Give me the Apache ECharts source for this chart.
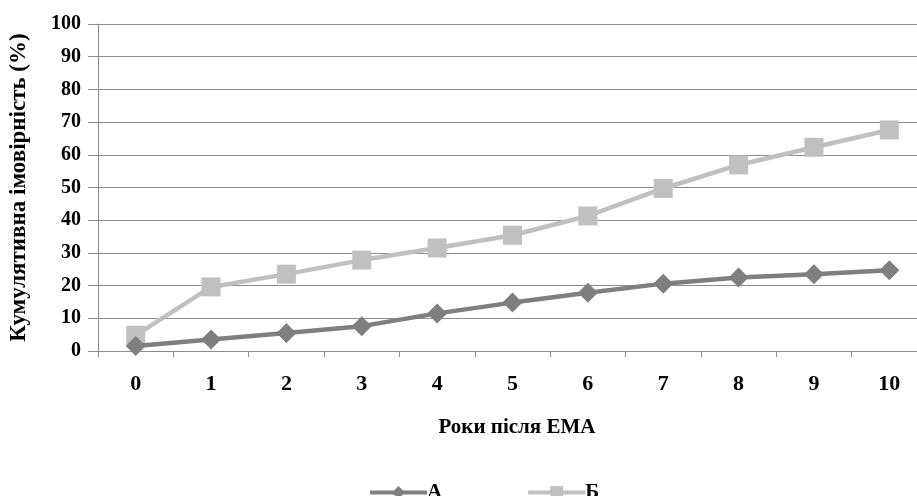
<!DOCTYPE html>
<html>
<head>
<meta charset="utf-8">
<script src="https://cdn.jsdelivr.net/npm/echarts@6/dist/echarts.min.js"></script>
<style>
  html, body { margin: 0; padding: 0; background: #ffffff; }
  #chart { width: 917px; height: 496px; }
</style>
</head>
<body>
<div id="chart"></div>
<script>
// Years after EMA and cumulative probability (%) for the two groups
const years = ['0', '1', '2', '3', '4', '5', '6', '7', '8', '9', '10'];
const seriesA = [1.5, 3.5, 5.5, 7.6, 11.5, 14.8, 17.8, 20.6, 22.5, 23.5, 24.7];
const seriesB = [4.8, 19.6, 23.5, 27.8, 31.5, 35.4, 41.3, 49.7, 56.9, 62.3, 67.6];
const yTicks = { min: 0, max: 100, interval: 10 };

const FONT = '"Liberation Serif", "Times New Roman", serif';
const AXIS_GRAY = '#8c8c8c';

const chart = echarts.init(document.getElementById('chart'), null, { renderer: 'canvas' });

chart.setOption({
  backgroundColor: '#ffffff',
  animation: false,
  grid: {
    left: 98, top: 24, right: -10, height: 327,
    containLabel: false,
    outerBoundsMode: 'none'
  },
  legend: {
    left: 363,
    top: 477,
    itemWidth: 57,
    itemHeight: 16,
    itemGap: 84,
    lineStyle: { width: 4 },
    textStyle: { fontFamily: FONT, fontWeight: 'bold', fontSize: 21, color: '#000', padding: [8, 0, 0, -5] },
    data: ['А', 'Б']
  },
  xAxis: {
    type: 'category',
    data: years,
    boundaryGap: true,
    name: 'Роки після ЕМА',
    nameLocation: 'middle',
    nameGap: 66,
    nameTextStyle: {
      fontFamily: FONT, fontWeight: 'bold', fontSize: 21, color: '#000',
      verticalAlign: 'top', padding: [0, 0, 0, 9]
    },
    axisLine: { lineStyle: { color: AXIS_GRAY, width: 1 } },
    axisTick: { show: true, alignWithLabel: false, length: 6, lineStyle: { color: AXIS_GRAY } },
    axisLabel: { fontFamily: FONT, fontWeight: 'bold', fontSize: 22, color: '#000', margin: 22 },
    splitLine: { show: false }
  },
  yAxis: {
    type: 'value',
    min: yTicks.min,
    max: yTicks.max,
    interval: yTicks.interval,
    name: 'Кумулятивна імовірність (%)',
    nameLocation: 'middle',
    nameGap: 67,
    nameTextStyle: { fontFamily: FONT, fontWeight: 'bold', fontSize: 23, color: '#000' },
    axisLine: { show: true, lineStyle: { color: AXIS_GRAY, width: 1 } },
    axisTick: { show: true, length: 10, lineStyle: { color: AXIS_GRAY } },
    axisLabel: { fontFamily: FONT, fontWeight: 'bold', fontSize: 20, color: '#000', margin: 17 },
    splitLine: { show: true, lineStyle: { color: AXIS_GRAY, width: 1 } }
  },
  series: [
    {
      name: 'А',
      type: 'line',
      data: seriesA,
      symbol: 'diamond',
      symbolSize: 20,
      itemStyle: { color: '#7f7f7f' },
      lineStyle: { color: '#7f7f7f', width: 4.5 },
      z: 3
    },
    {
      name: 'Б',
      type: 'line',
      data: seriesB,
      symbol: 'rect',
      symbolSize: 19,
      itemStyle: { color: '#c0c0c0' },
      lineStyle: { color: '#c0c0c0', width: 4.5 },
      z: 2
    }
  ]
});
</script>
</body>
</html>
